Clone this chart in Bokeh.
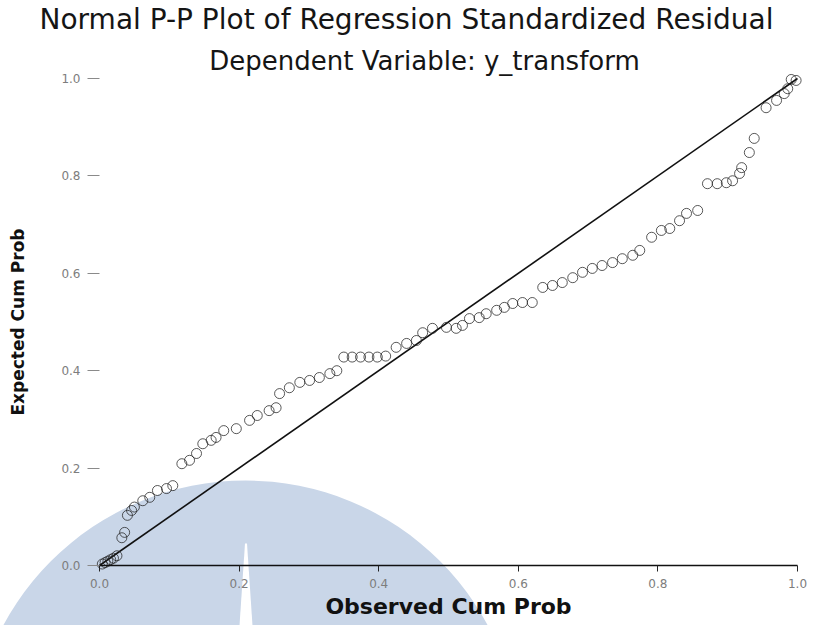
from bokeh.plotting import figure
from bokeh.models import Range1d, LinearAxis, FixedTicker, PrintfTickFormatter, Label
from bokeh.embed import file_html
from bokeh.resources import INLINE

# ---- data ----
observed = [0.004, 0.008, 0.012, 0.016, 0.020, 0.025, 0.032, 0.036, 0.040, 0.046,
            0.050, 0.062, 0.072, 0.083, 0.096, 0.105, 0.118, 0.129, 0.139, 0.148,
            0.160, 0.167, 0.178, 0.196, 0.215, 0.226, 0.243, 0.253, 0.258, 0.272,
            0.287, 0.301, 0.315, 0.330, 0.340, 0.350, 0.362, 0.374, 0.386, 0.398,
            0.410, 0.425, 0.440, 0.454, 0.463, 0.477, 0.497, 0.511, 0.520, 0.530,
            0.544, 0.554, 0.569, 0.580, 0.592, 0.606, 0.620, 0.635, 0.649, 0.663,
            0.678, 0.692, 0.706, 0.720, 0.735, 0.749, 0.764, 0.774, 0.791, 0.805,
            0.817, 0.831, 0.841, 0.857, 0.871, 0.885, 0.898, 0.907, 0.917, 0.920,
            0.931, 0.938, 0.955, 0.970, 0.981, 0.986, 0.991, 0.998]
expected = [0.003, 0.006, 0.009, 0.012, 0.015, 0.020, 0.057, 0.068, 0.103, 0.113,
            0.120, 0.133, 0.140, 0.154, 0.158, 0.164, 0.209, 0.216, 0.230, 0.250,
            0.257, 0.263, 0.277, 0.281, 0.298, 0.308, 0.318, 0.324, 0.353, 0.365,
            0.376, 0.380, 0.386, 0.394, 0.400, 0.428, 0.428, 0.428, 0.428, 0.428,
            0.430, 0.448, 0.456, 0.462, 0.478, 0.487, 0.489, 0.487, 0.493, 0.507,
            0.509, 0.517, 0.524, 0.530, 0.538, 0.540, 0.540, 0.571, 0.575, 0.581,
            0.591, 0.602, 0.610, 0.616, 0.622, 0.630, 0.637, 0.647, 0.674, 0.688,
            0.692, 0.708, 0.723, 0.729, 0.784, 0.784, 0.786, 0.790, 0.805, 0.817,
            0.848, 0.877, 0.940, 0.955, 0.969, 0.979, 0.998, 0.996]
diag_x = [0.0, 1.0]
diag_y = [0.0, 1.0]
tick_values = [0.0, 0.2, 0.4, 0.6, 0.8, 1.0]

title_main = "Normal P-P Plot of Regression Standardized Residual"
title_sub = "Dependent Variable: y_transform"
x_title = "Observed Cum Prob"
y_title = "Expected Cum Prob"

# ---- layout (pixels of the 813x625 canvas) ----
W, H = 813, 625
X0, X1 = 99, 797      # pixel columns of data 0 and 1
Y0, Y1 = 565, 78      # pixel rows of data 0 and 1


def sx(px):
    return (px - X0) / (X1 - X0)


def sy(py):
    return (Y0 - py) / (Y0 - Y1)


FONT = "DejaVu Sans"

p = figure(width=W, height=H, x_range=Range1d(sx(0), sx(W)), y_range=Range1d(sy(H), sy(0)),
           x_axis_location=None, y_axis_location=None, toolbar_location=None,
           output_backend="svg", min_border=0, title=None,
           background_fill_color="white", border_fill_color="white",
           outline_line_color=None)
p.grid.visible = False

# faint watermark of the scanned page
wm = "#c9d6e8"
p.ellipse(x=sx(245), y=sy(755), width=2 * 275 / (X1 - X0), height=2 * 275 / (Y0 - Y1),
          fill_color=wm, line_color=None)
p.patch(x=[sx(244.5), sx(239), sx(252), sx(246.5)], y=[sy(543), sy(H), sy(H), sy(543)],
        fill_color="white", line_color=None)

# reference diagonal and points
p.line(diag_x, diag_y, line_color="#111111", line_width=1.6)
p.scatter(observed, expected, marker="circle", size=10, fill_color=None,
          line_color="#222222", line_width=1, line_alpha=0.75)

# axes drawn at data zero
xaxis = LinearAxis(fixed_location=0, bounds=(0, 1),
                   ticker=FixedTicker(ticks=tick_values, minor_ticks=[]),
                   formatter=PrintfTickFormatter(format="%.1f"),
                   axis_label=x_title)
xaxis.axis_line_color = "#111111"
xaxis.axis_line_width = 1.5
xaxis.major_tick_in = 0
xaxis.major_tick_out = 6
xaxis.major_tick_line_color = "#222222"
xaxis.minor_tick_line_color = None
xaxis.major_label_text_font = FONT
xaxis.major_label_text_font_size = "12px"
xaxis.major_label_text_color = "#7d7d7d"
xaxis.major_label_standoff = 7
xaxis.axis_label_text_font = FONT
xaxis.axis_label_text_font_style = "bold"
xaxis.axis_label_text_font_size = "22px"
xaxis.axis_label_text_color = "#111111"
xaxis.axis_label_standoff = 3
p.add_layout(xaxis, "below")

yaxis = LinearAxis(fixed_location=0, bounds=(0, 1),
                   ticker=FixedTicker(ticks=tick_values, minor_ticks=[]),
                   formatter=PrintfTickFormatter(format="%.1f"),
                   axis_label=y_title)
yaxis.axis_line_color = None
yaxis.major_tick_in = 0
yaxis.major_tick_out = 12
yaxis.major_tick_line_color = "#8a8a8a"
yaxis.minor_tick_line_color = None
yaxis.major_label_text_font = FONT
yaxis.major_label_text_font_size = "12px"
yaxis.major_label_text_color = "#7d7d7d"
yaxis.major_label_standoff = 7
yaxis.axis_label_text_font = FONT
yaxis.axis_label_text_font_style = "bold"
yaxis.axis_label_text_font_size = "17px"
yaxis.axis_label_text_color = "#111111"
yaxis.axis_label_standoff = 30
p.add_layout(yaxis, "left")

# titles
p.add_layout(Label(x=sx(406), y=sy(19), text=title_main, text_align="center",
                   text_baseline="middle", text_font=FONT, text_font_size="28px",
                   text_color="#151515"))
p.add_layout(Label(x=sx(424), y=sy(60), text=title_sub, text_align="center",
                   text_baseline="middle", text_font=FONT, text_font_size="26px",
                   text_color="#151515"))

open("out.html", "w").write(file_html(p, INLINE))
